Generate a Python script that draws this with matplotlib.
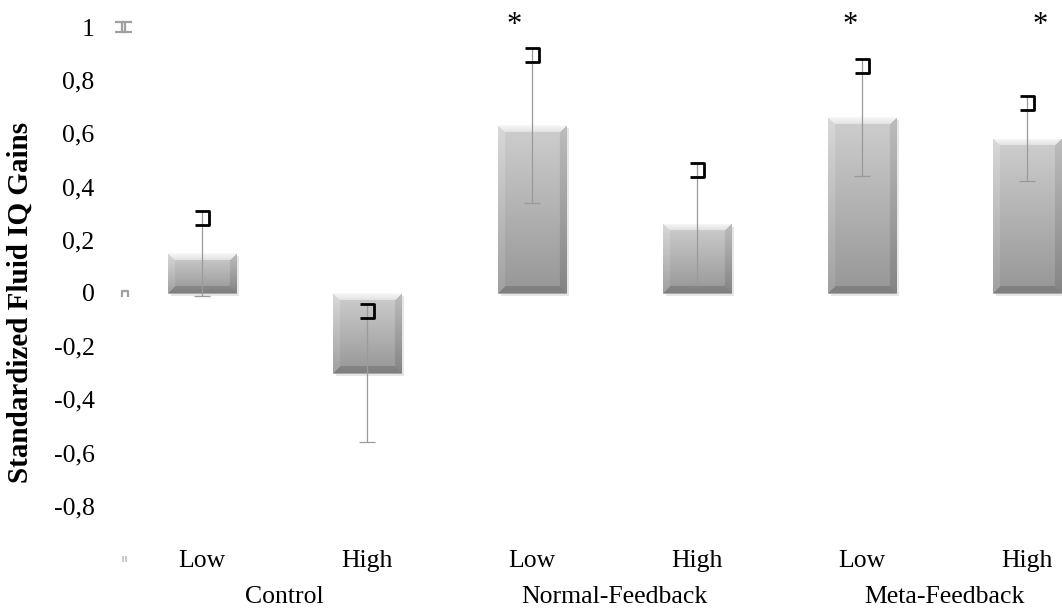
import numpy as np
import matplotlib
matplotlib.use("Agg")
import matplotlib.pyplot as plt
from matplotlib.path import Path
from matplotlib.transforms import blended_transform_factory
import matplotlib.patheffects as pe

groups = ["Control", "Normal-Feedback", "Meta-Feedback"]
levels = ["Low", "High", "Low", "High", "Low", "High"]
values = [0.15, -0.30, 0.63, 0.26, 0.66, 0.58]
errors = [0.16, 0.26, 0.29, 0.23, 0.22, 0.16]
significant = [False, False, True, False, True, True]
yticks = [-0.8, -0.6, -0.4, -0.2, 0, 0.2, 0.4, 0.6, 0.8, 1]

plt.rcParams['font.family'] = ['Liberation Serif', 'DejaVu Serif']

W, H = 1062, 614
fig = plt.figure(figsize=(W / 100, H / 100), dpi=100)
ax = fig.add_axes([119.5 / W, 95 / H, 990 / W, 492 / H])
ax.set_xlim(-0.5, 5.5)
ax.set_ylim(-0.85, 1.0)

x = np.arange(len(values))
bars = ax.bar(x, values, width=0.415, color="#a8a8a8", edgecolor="#a0a0a0",
              linewidth=0.6, zorder=2,
              path_effects=[pe.SimplePatchShadow(offset=(2, -2), alpha=0.18,
                                                 shadow_rgbFace="#777777"),
                            pe.Normal()])

fig.canvas.draw()
for p in bars:
    x0, y0 = p.get_x(), p.get_y()
    x1, y1 = x0 + p.get_width(), y0 + p.get_height()
    ylo, yhi = min(y0, y1), max(y0, y1)
    (px0, py0) = ax.transData.transform((x0, ylo))
    (px1, py1) = ax.transData.transform((x1, yhi))
    w = max(int(round(px1 - px0)), 2)
    h = max(int(round(py1 - py0)), 2)
    t = np.linspace(0, 1, h)[:, None] * np.ones((1, w))
    base = 0.81 - 0.22 * t
    yy = np.arange(h)[:, None] * np.ones((1, w))
    xx = np.ones((h, 1)) * np.arange(w)[None, :]
    dt, db = yy, h - 1 - yy
    dl, dr = xx, w - 1 - xx
    b = 7
    img = base.copy()
    dmin = np.minimum(np.minimum(dt, db), np.minimum(dl, dr))
    inb = dmin < b
    top = inb & (dt == dmin)
    left = inb & (dl == dmin) & ~top
    right = inb & (dr == dmin) & ~top
    bot = inb & (db == dmin) & ~top & ~left & ~right
    img[top] = 0.97 - 0.09 * (dt[top] / b)
    img[left] = base[left] + 0.04
    img[right] = base[right] - 0.07
    img[bot] = base[bot] - 0.09
    img = np.clip(img, 0, 1)
    rgb = np.dstack([img, img, img])
    im = ax.imshow(rgb, extent=(x0, x1, ylo, yhi), origin="upper",
                   aspect="auto", zorder=2.5, interpolation="bilinear")
    im.set_clip_path(p)

ax.set_xlim(-0.5, 5.5)
ax.set_ylim(-0.85, 1.0)

values_a = np.array(values)
errors_a = np.array(errors)
ax.vlines(x, values_a - errors_a, values_a + errors_a, color="#9a9a9a",
          linewidth=0.9, zorder=3)
ax.plot(x, values_a - errors_a, linestyle="none", marker="_", markersize=11.5,
        markeredgewidth=0.9, color="#9a9a9a", zorder=3)
bracket = Path([(-1, 0), (1, 0), (1, -2), (-1, -2)],
               [Path.MOVETO, Path.LINETO, Path.LINETO, Path.LINETO])
ax.plot(x, values_a + errors_a, linestyle="none", marker=bracket, markersize=20,
        markerfacecolor="none", markeredgecolor="black", markeredgewidth=2.0,
        zorder=4)

star_dx = {2: -0.11, 4: -0.07, 5: 0.08}
for i, s in enumerate(significant):
    if s:
        ax.text(x[i] + star_dx.get(i, 0), 1.005, "*", ha="center", va="center",
                fontsize=22, clip_on=False)

for s in ax.spines.values():
    s.set_visible(False)
ax.set_yticks(yticks)
ax.set_yticklabels([("%g" % v).replace(".", ",") for v in yticks], fontsize=18.5)
ax.tick_params(axis="y", length=0, pad=18)
ax.set_xticks(x)
ax.set_xticklabels(levels, fontsize=18.5)
ax.tick_params(axis="x", length=0, pad=22)

tr = blended_transform_factory(ax.transData, ax.transAxes)
for gi, g in enumerate(groups):
    ax.text(2 * gi + 0.5, -0.158, g, transform=tr, ha="center", va="center",
            fontsize=18.5, clip_on=False)

ax.set_ylabel("Standardized Fluid IQ Gains", fontsize=21, fontweight="bold")
ax.yaxis.set_label_coords(-0.087, 0.44)

gray = "#a0a0a0"
lb = Path([(-1, 0), (1, 0), (1, -2), (-1, -2)],
          [Path.MOVETO, Path.LINETO, Path.LINETO, Path.LINETO])
rb = Path([(1, 0), (-1, 0), (-1, -2), (1, -2)],
          [Path.MOVETO, Path.LINETO, Path.LINETO, Path.LINETO])
nb = Path([(-1, -2), (-1, 0), (1, 0), (1, -2)],
          [Path.MOVETO, Path.LINETO, Path.LINETO, Path.LINETO])
ax.plot([-0.5], [1.02], marker=lb, markersize=14, markerfacecolor="none",
        markeredgecolor=gray, markeredgewidth=1.6, clip_on=False)
ax.plot([-0.455], [1.02], marker=rb, markersize=14, markerfacecolor="none",
        markeredgecolor=gray, markeredgewidth=1.6, clip_on=False)
ax.plot([-0.467], [0.006], marker=nb, markersize=9, markerfacecolor="none",
        markeredgecolor=gray, markeredgewidth=1.6, clip_on=False)
ax.plot([-0.478, -0.458], [-1.0, -1.0], linestyle="none", marker="|",
        markersize=4, markeredgewidth=1.2, color="#c0c0c0", clip_on=False)

fig.savefig("out.png", dpi=100)
